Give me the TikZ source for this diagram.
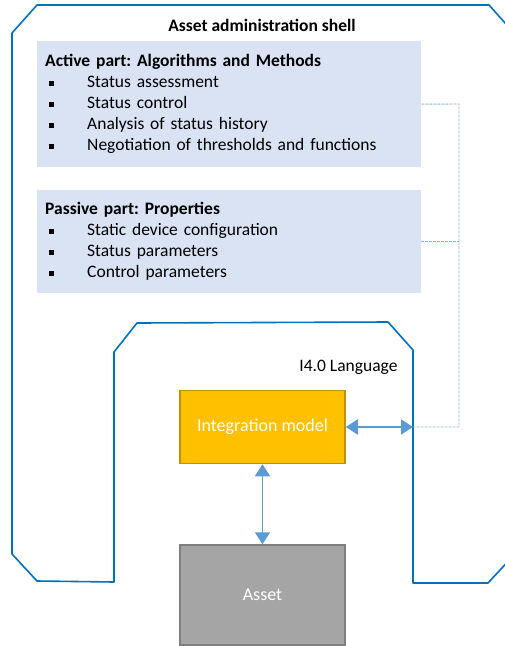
\documentclass[tikz,border=0pt]{standalone}
\usepackage{fontspec}
\setmainfont{Carlito}
\usetikzlibrary{arrows.meta}

\definecolor{shellblue}{HTML}{0070C0}
\definecolor{partfill}{HTML}{DAE3F3}
\definecolor{linkblue}{HTML}{5B9BD5}
\definecolor{dashblue}{HTML}{8FB8E0}
\definecolor{integfill}{HTML}{FFC000}
\definecolor{integline}{HTML}{BF9000}
\definecolor{assetfill}{HTML}{A5A5A5}
\definecolor{assetline}{HTML}{7F7F7F}

\newcommand{\puce}{\makebox[42pt][l]{\hspace{4pt}\rule[2pt]{5pt}{5pt}}}
\frenchspacing

\begin{document}
\begin{tikzpicture}[x=1pt, y=-1pt,
    shell/.style = {draw=shellblue, line width=1.6pt, line join=round},
    part/.style = {fill=partfill, anchor=north west, minimum width=384pt,
      text width=368pt, inner xsep=8pt, align=left,
      font=\fontsize{17.5}{21}\selectfont},
    bloc/.style = {minimum width=165pt, line width=1.5pt, text=white,
      font=\fontsize{18}{21}\selectfont},
    lien/.style = {linkblue, line width=1.8pt,
      {Triangle[length=12pt,width=15pt]}-{Triangle[length=12pt,width=15pt]}},
    tirets/.style = {dashblue, line width=0.9pt, dash pattern=on 3pt off 1pt}]

  \useasboundingbox (0,0) rectangle (504,646);

  % Le cadre
  \draw[shell] (37,5) -- (12,33) -- (12,554) -- (37,581) -- (114,582)
    -- (114,352) -- (137,323) -- (388,322) -- (413,350) -- (413,583)
    -- (488,583) -- (514,555) -- (514,33) -- (489,5) -- cycle;

  % Les textes
  \node[font=\bfseries\fontsize{17.5}{21}\selectfont] (titre) at (262,25) {Asset administration shell};
  \node[font=\fontsize{17.5}{21}\selectfont, anchor=east] (langue) at (401,367) {I4.0 Language};

  % Les parties
  \node[part, minimum height=126pt] (active) at (37,41) {%
    \textbf{Active part: Algorithms and Methods}\\
    \puce Status assessment\\
    \puce Status control\\
    \puce Analysis of status history\\
    \puce Negotiation of thresholds and functions};
  \node[part, minimum height=103pt] (passive) at (37,190) {%
    \textbf{Passive part: Properties}\\
    \puce Static device configuration\\
    \puce Status parameters\\
    \puce Control parameters};

  % Les blocs
  \node[bloc, draw=integline, fill=integfill, minimum height=73pt] (integ) at (262.5,427) {Integration model};
  \node[bloc, draw=assetline, fill=assetfill, minimum height=100pt] (asset) at (262.5,595) {Asset};

  % Les liens
  \coordinate (port) at (413,427);
  \coordinate (coin) at (459,104);
  \draw[tirets] (active.east) -- (coin) -- (coin |- port) -- (port);
  \draw[tirets] (passive.east) -- (passive.east -| coin);
  \draw[lien] (integ.east) -- (port);
  \draw[lien] (integ.south) -- (asset.north);

\end{tikzpicture}
\end{document}
